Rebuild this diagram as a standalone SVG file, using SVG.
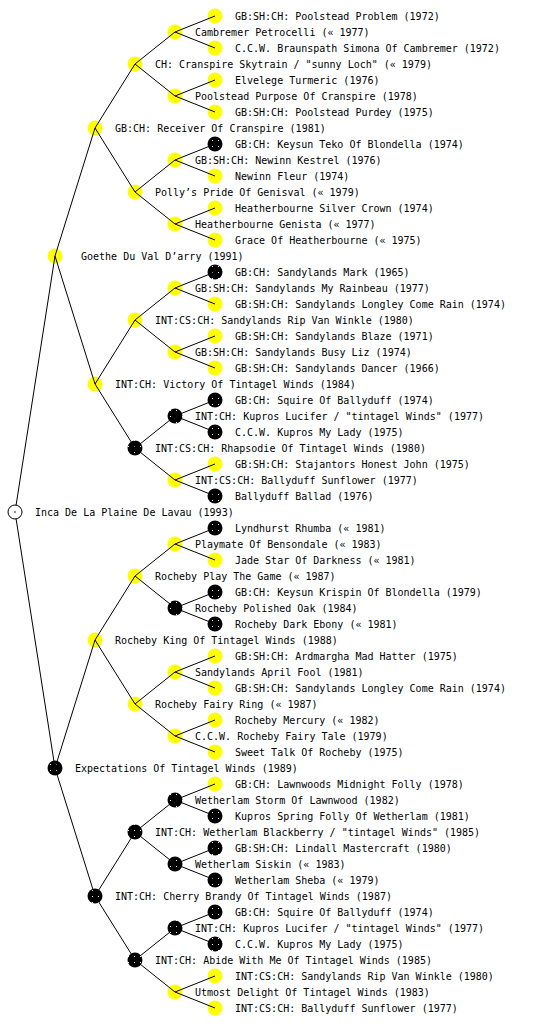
<svg xmlns="http://www.w3.org/2000/svg" width="560" height="1024" viewBox="0 0 560 1024">
<style>
text{font-family:"DejaVu Sans Mono","Liberation Mono",monospace;font-size:10px;fill:#000}
.y{fill:#ffff00}
.b{fill:url(#pb)}
.r{fill:#fff;stroke:#000;stroke-width:1}
#connectors line{stroke:#000;stroke-width:1}
</style>
<defs>
<pattern id="pb" width="6" height="6" patternUnits="userSpaceOnUse"><rect width="6" height="6" fill="#000"/><rect x="2" y="2" width="1" height="1" fill="#fff"/></pattern>
</defs>
<rect width="560" height="1024" fill="#fff"/>
<g id="nodes">
<g id="n1"><circle class="y" cx="215" cy="16" r="7.5"/><text x="235" y="19.6">GB:SH:CH: Poolstead Problem (1972)</text></g>
<g id="n2"><circle class="y" cx="175" cy="32" r="7.5"/><text x="195" y="35.6">Cambremer Petrocelli (« 1977)</text></g>
<g id="n3"><circle class="y" cx="215" cy="48" r="7.5"/><text x="235" y="51.6">C.C.W. Braunspath Simona Of Cambremer (1972)</text></g>
<g id="n4"><circle class="y" cx="135" cy="64" r="7.5"/><text x="155" y="67.6">CH: Cranspire Skytrain / "sunny Loch" (« 1979)</text></g>
<g id="n5"><circle class="y" cx="215" cy="80" r="7.5"/><text x="235" y="83.6">Elvelege Turmeric (1976)</text></g>
<g id="n6"><circle class="y" cx="175" cy="96" r="7.5"/><text x="195" y="99.6">Poolstead Purpose Of Cranspire (1978)</text></g>
<g id="n7"><circle class="y" cx="215" cy="112" r="7.5"/><text x="235" y="115.6">GB:SH:CH: Poolstead Purdey (1975)</text></g>
<g id="n8"><circle class="y" cx="95" cy="128" r="7.5"/><text x="115" y="131.6">GB:CH: Receiver Of Cranspire (1981)</text></g>
<g id="n9"><circle class="b" cx="215" cy="144" r="7.5"/><text x="235" y="147.6">GB:CH: Keysun Teko Of Blondella (1974)</text></g>
<g id="n10"><circle class="y" cx="175" cy="160" r="7.5"/><text x="195" y="163.6">GB:SH:CH: Newinn Kestrel (1976)</text></g>
<g id="n11"><circle class="y" cx="215" cy="176" r="7.5"/><text x="235" y="179.6">Newinn Fleur (1974)</text></g>
<g id="n12"><circle class="y" cx="135" cy="192" r="7.5"/><text x="155" y="195.6">Polly’s Pride Of Genisval (« 1979)</text></g>
<g id="n13"><circle class="y" cx="215" cy="208" r="7.5"/><text x="235" y="211.6">Heatherbourne Silver Crown (1974)</text></g>
<g id="n14"><circle class="y" cx="175" cy="224" r="7.5"/><text x="195" y="227.6">Heatherbourne Genista (« 1977)</text></g>
<g id="n15"><circle class="y" cx="215" cy="240" r="7.5"/><text x="235" y="243.6">Grace Of Heatherbourne (« 1975)</text></g>
<g id="n16"><circle class="y" cx="55" cy="256" r="7.5"/><text x="81" y="259.6">Goethe Du Val D’arry (1991)</text></g>
<g id="n17"><circle class="b" cx="215" cy="272" r="7.5"/><text x="235" y="275.6">GB:CH: Sandylands Mark (1965)</text></g>
<g id="n18"><circle class="y" cx="175" cy="288" r="7.5"/><text x="195" y="291.6">GB:SH:CH: Sandylands My Rainbeau (1977)</text></g>
<g id="n19"><circle class="y" cx="215" cy="304" r="7.5"/><text x="235" y="307.6">GB:SH:CH: Sandylands Longley Come Rain (1974)</text></g>
<g id="n20"><circle class="y" cx="135" cy="320" r="7.5"/><text x="155" y="323.6">INT:CS:CH: Sandylands Rip Van Winkle (1980)</text></g>
<g id="n21"><circle class="y" cx="215" cy="336" r="7.5"/><text x="235" y="339.6">GB:SH:CH: Sandylands Blaze (1971)</text></g>
<g id="n22"><circle class="y" cx="175" cy="352" r="7.5"/><text x="195" y="355.6">GB:SH:CH: Sandylands Busy Liz (1974)</text></g>
<g id="n23"><circle class="y" cx="215" cy="368" r="7.5"/><text x="235" y="371.6">GB:SH:CH: Sandylands Dancer (1966)</text></g>
<g id="n24"><circle class="y" cx="95" cy="384" r="7.5"/><text x="115" y="387.6">INT:CH: Victory Of Tintagel Winds (1984)</text></g>
<g id="n25"><circle class="b" cx="215" cy="400" r="7.5"/><text x="235" y="403.6">GB:CH: Squire Of Ballyduff (1974)</text></g>
<g id="n26"><circle class="b" cx="175" cy="416" r="7.5"/><text x="195" y="419.6">INT:CH: Kupros Lucifer / "tintagel Winds" (1977)</text></g>
<g id="n27"><circle class="b" cx="215" cy="432" r="7.5"/><text x="235" y="435.6">C.C.W. Kupros My Lady (1975)</text></g>
<g id="n28"><circle class="b" cx="135" cy="448" r="7.5"/><text x="155" y="451.6">INT:CS:CH: Rhapsodie Of Tintagel Winds (1980)</text></g>
<g id="n29"><circle class="y" cx="215" cy="464" r="7.5"/><text x="235" y="467.6">GB:SH:CH: Stajantors Honest John (1975)</text></g>
<g id="n30"><circle class="y" cx="175" cy="480" r="7.5"/><text x="195" y="483.6">INT:CS:CH: Ballyduff Sunflower (1977)</text></g>
<g id="n31"><circle class="b" cx="215" cy="496" r="7.5"/><text x="235" y="499.6">Ballyduff Ballad (1976)</text></g>
<g id="n32"><circle class="r" cx="15" cy="512" r="7"/><circle cx="15" cy="512" r="0.8" fill="#000"/><text x="35" y="515.6">Inca De La Plaine De Lavau (1993)</text></g>
<g id="n33"><circle class="b" cx="215" cy="528" r="7.5"/><text x="235" y="531.6">Lyndhurst Rhumba (« 1981)</text></g>
<g id="n34"><circle class="y" cx="175" cy="544" r="7.5"/><text x="195" y="547.6">Playmate Of Bensondale (« 1983)</text></g>
<g id="n35"><circle class="y" cx="215" cy="560" r="7.5"/><text x="235" y="563.6">Jade Star Of Darkness (« 1981)</text></g>
<g id="n36"><circle class="y" cx="135" cy="576" r="7.5"/><text x="155" y="579.6">Rocheby Play The Game (« 1987)</text></g>
<g id="n37"><circle class="b" cx="215" cy="592" r="7.5"/><text x="235" y="595.6">GB:CH: Keysun Krispin Of Blondella (1979)</text></g>
<g id="n38"><circle class="b" cx="175" cy="608" r="7.5"/><text x="195" y="611.6">Rocheby Polished Oak (1984)</text></g>
<g id="n39"><circle class="b" cx="215" cy="624" r="7.5"/><text x="235" y="627.6">Rocheby Dark Ebony (« 1981)</text></g>
<g id="n40"><circle class="y" cx="95" cy="640" r="7.5"/><text x="115" y="643.6">Rocheby King Of Tintagel Winds (1988)</text></g>
<g id="n41"><circle class="y" cx="215" cy="656" r="7.5"/><text x="235" y="659.6">GB:SH:CH: Ardmargha Mad Hatter (1975)</text></g>
<g id="n42"><circle class="y" cx="175" cy="672" r="7.5"/><text x="195" y="675.6">Sandylands April Fool (1981)</text></g>
<g id="n43"><circle class="y" cx="215" cy="688" r="7.5"/><text x="235" y="691.6">GB:SH:CH: Sandylands Longley Come Rain (1974)</text></g>
<g id="n44"><circle class="y" cx="135" cy="704" r="7.5"/><text x="155" y="707.6">Rocheby Fairy Ring (« 1987)</text></g>
<g id="n45"><circle class="y" cx="215" cy="720" r="7.5"/><text x="235" y="723.6">Rocheby Mercury (« 1982)</text></g>
<g id="n46"><circle class="y" cx="175" cy="736" r="7.5"/><text x="195" y="739.6">C.C.W. Rocheby Fairy Tale (1979)</text></g>
<g id="n47"><circle class="y" cx="215" cy="752" r="7.5"/><text x="235" y="755.6">Sweet Talk Of Rocheby (1975)</text></g>
<g id="n48"><circle class="b" cx="55" cy="768" r="7.5"/><text x="75" y="771.6">Expectations Of Tintagel Winds (1989)</text></g>
<g id="n49"><circle class="y" cx="215" cy="784" r="7.5"/><text x="235" y="787.6">GB:CH: Lawnwoods Midnight Folly (1978)</text></g>
<g id="n50"><circle class="b" cx="175" cy="800" r="7.5"/><text x="195" y="803.6">Wetherlam Storm Of Lawnwood (1982)</text></g>
<g id="n51"><circle class="b" cx="215" cy="816" r="7.5"/><text x="235" y="819.6">Kupros Spring Folly Of Wetherlam (1981)</text></g>
<g id="n52"><circle class="b" cx="135" cy="832" r="7.5"/><text x="155" y="835.6">INT:CH: Wetherlam Blackberry / "tintagel Winds" (1985)</text></g>
<g id="n53"><circle class="b" cx="215" cy="848" r="7.5"/><text x="235" y="851.6">GB:SH:CH: Lindall Mastercraft (1980)</text></g>
<g id="n54"><circle class="b" cx="175" cy="864" r="7.5"/><text x="195" y="867.6">Wetherlam Siskin (« 1983)</text></g>
<g id="n55"><circle class="b" cx="215" cy="880" r="7.5"/><text x="235" y="883.6">Wetherlam Sheba (« 1979)</text></g>
<g id="n56"><circle class="b" cx="95" cy="896" r="7.5"/><text x="115" y="899.6">INT:CH: Cherry Brandy Of Tintagel Winds (1987)</text></g>
<g id="n57"><circle class="b" cx="215" cy="912" r="7.5"/><text x="235" y="915.6">GB:CH: Squire Of Ballyduff (1974)</text></g>
<g id="n58"><circle class="b" cx="175" cy="928" r="7.5"/><text x="195" y="931.6">INT:CH: Kupros Lucifer / "tintagel Winds" (1977)</text></g>
<g id="n59"><circle class="b" cx="215" cy="944" r="7.5"/><text x="235" y="947.6">C.C.W. Kupros My Lady (1975)</text></g>
<g id="n60"><circle class="b" cx="135" cy="960" r="7.5"/><text x="155" y="963.6">INT:CH: Abide With Me Of Tintagel Winds (1985)</text></g>
<g id="n61"><circle class="y" cx="215" cy="976" r="7.5"/><text x="235" y="979.6">INT:CS:CH: Sandylands Rip Van Winkle (1980)</text></g>
<g id="n62"><circle class="y" cx="175" cy="992" r="7.5"/><text x="195" y="995.6">Utmost Delight Of Tintagel Winds (1983)</text></g>
<g id="n63"><circle class="y" cx="215" cy="1008" r="7.5"/><text x="235" y="1011.6">INT:CS:CH: Ballyduff Sunflower (1977)</text></g>
</g>
<g id="connectors">
<line x1="16.1" y1="505.1" x2="55" y2="256"/><line x1="16.1" y1="518.9" x2="55" y2="768"/>
<line x1="55" y1="256" x2="95" y2="128"/><line x1="55" y1="256" x2="95" y2="384"/>
<line x1="55" y1="768" x2="95" y2="640"/><line x1="55" y1="768" x2="95" y2="896"/>
<line x1="95" y1="128" x2="135" y2="64"/><line x1="95" y1="128" x2="135" y2="192"/>
<line x1="95" y1="384" x2="135" y2="320"/><line x1="95" y1="384" x2="135" y2="448"/>
<line x1="95" y1="640" x2="135" y2="576"/><line x1="95" y1="640" x2="135" y2="704"/>
<line x1="95" y1="896" x2="135" y2="832"/><line x1="95" y1="896" x2="135" y2="960"/>
<line x1="135" y1="64" x2="175" y2="32"/><line x1="135" y1="64" x2="175" y2="96"/>
<line x1="135" y1="192" x2="175" y2="160"/><line x1="135" y1="192" x2="175" y2="224"/>
<line x1="135" y1="320" x2="175" y2="288"/><line x1="135" y1="320" x2="175" y2="352"/>
<line x1="135" y1="448" x2="175" y2="416"/><line x1="135" y1="448" x2="175" y2="480"/>
<line x1="135" y1="576" x2="175" y2="544"/><line x1="135" y1="576" x2="175" y2="608"/>
<line x1="135" y1="704" x2="175" y2="672"/><line x1="135" y1="704" x2="175" y2="736"/>
<line x1="135" y1="832" x2="175" y2="800"/><line x1="135" y1="832" x2="175" y2="864"/>
<line x1="135" y1="960" x2="175" y2="928"/><line x1="135" y1="960" x2="175" y2="992"/>
<line x1="175" y1="32" x2="215" y2="16"/><line x1="175" y1="32" x2="215" y2="48"/>
<line x1="175" y1="96" x2="215" y2="80"/><line x1="175" y1="96" x2="215" y2="112"/>
<line x1="175" y1="160" x2="215" y2="144"/><line x1="175" y1="160" x2="215" y2="176"/>
<line x1="175" y1="224" x2="215" y2="208"/><line x1="175" y1="224" x2="215" y2="240"/>
<line x1="175" y1="288" x2="215" y2="272"/><line x1="175" y1="288" x2="215" y2="304"/>
<line x1="175" y1="352" x2="215" y2="336"/><line x1="175" y1="352" x2="215" y2="368"/>
<line x1="175" y1="416" x2="215" y2="400"/><line x1="175" y1="416" x2="215" y2="432"/>
<line x1="175" y1="480" x2="215" y2="464"/><line x1="175" y1="480" x2="215" y2="496"/>
<line x1="175" y1="544" x2="215" y2="528"/><line x1="175" y1="544" x2="215" y2="560"/>
<line x1="175" y1="608" x2="215" y2="592"/><line x1="175" y1="608" x2="215" y2="624"/>
<line x1="175" y1="672" x2="215" y2="656"/><line x1="175" y1="672" x2="215" y2="688"/>
<line x1="175" y1="736" x2="215" y2="720"/><line x1="175" y1="736" x2="215" y2="752"/>
<line x1="175" y1="800" x2="215" y2="784"/><line x1="175" y1="800" x2="215" y2="816"/>
<line x1="175" y1="864" x2="215" y2="848"/><line x1="175" y1="864" x2="215" y2="880"/>
<line x1="175" y1="928" x2="215" y2="912"/><line x1="175" y1="928" x2="215" y2="944"/>
<line x1="175" y1="992" x2="215" y2="976"/><line x1="175" y1="992" x2="215" y2="1008"/>
</g>
</svg>
